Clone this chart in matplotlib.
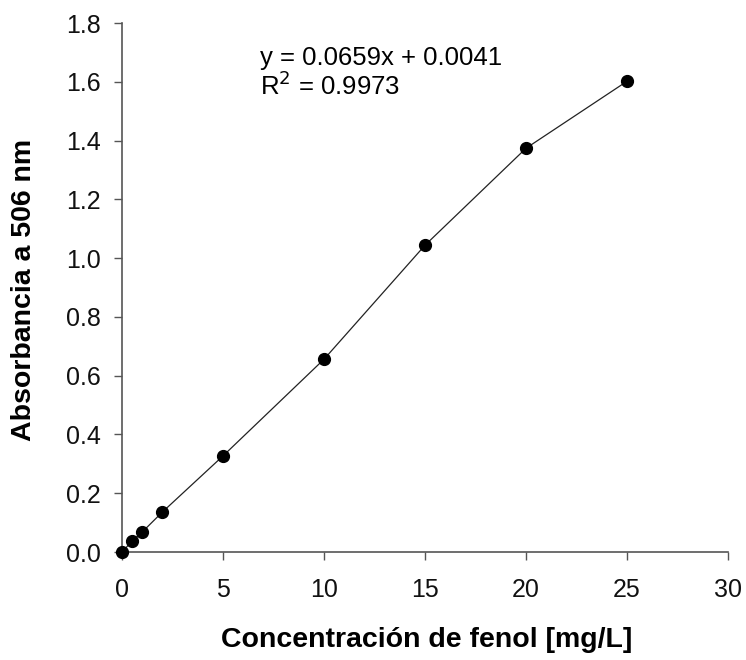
import matplotlib
matplotlib.use("Agg")
import matplotlib.pyplot as plt
import numpy as np

plt.rcParams['font.family'] = ['Liberation Sans', 'DejaVu Sans']

# calibration curve: phenol concentration vs absorbance
conc = [0, 0.5, 1, 2, 5, 10, 15, 20, 25]
absorb = [0.0, 0.037, 0.068, 0.136, 0.327, 0.656, 1.044, 1.374, 1.602]
xticks = [0, 5, 10, 15, 20, 25, 30]
yticks = [0.0, 0.2, 0.4, 0.6, 0.8, 1.0, 1.2, 1.4, 1.6, 1.8]

fig = plt.figure(figsize=(7.46, 6.6), dpi=100)
ax = fig.add_axes([0.1635, 0.1636, 0.8125, 0.8015])

ax.plot(conc, absorb, color='#222222', lw=0.9, marker='o', ms=8.5,
        mfc='black', mec='black', clip_on=False, zorder=3)

ax.set_xlim(0, 30)
ax.set_ylim(0, 1.8)
ax.set_xticks(xticks)
ax.set_yticks(yticks)
ax.set_xticklabels([str(t) for t in xticks])
ax.set_yticklabels(['%.1f' % t for t in yticks])

for s in ['top', 'right']:
    ax.spines[s].set_visible(False)
for s in ['left', 'bottom']:
    ax.spines[s].set_color('#555555')
    ax.spines[s].set_linewidth(1.2)

ax.tick_params(direction='out', length=6, width=1, color='#555555',
               labelsize=18, labelcolor='#111111')
ax.tick_params(axis='x', pad=13)
ax.tick_params(axis='y', pad=9)

ax.set_xlabel('Concentración de fenol [mg/L]', fontsize=20.5, fontweight='bold', va='center')
ax.set_ylabel('Absorbancia a 506 nm', fontsize=20.5, fontweight='bold', va='center')
ax.xaxis.set_label_coords(0.502, -0.166)
ax.yaxis.set_label_coords(-0.162, 0.495)

ax.text(0.228, 0.934, 'y = 0.0659x + 0.0041', transform=ax.transAxes,
        fontsize=18.5, va='center', ha='left')
ax.text(0.228, 0.881, 'R$^2$ = 0.9973', transform=ax.transAxes,
        fontsize=18.5, va='center', ha='left')

fig.savefig('out.png', dpi=100)
